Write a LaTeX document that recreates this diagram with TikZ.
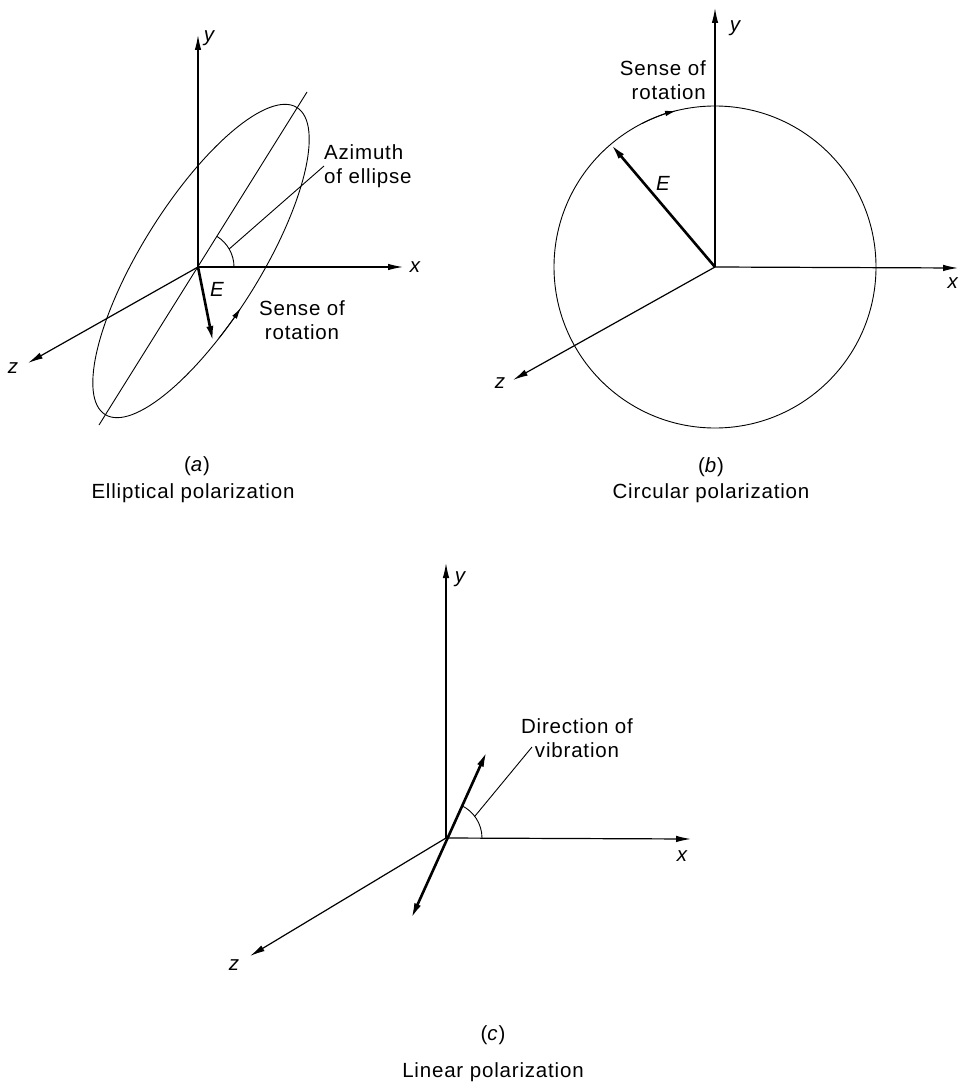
\documentclass[tikz,border=0pt]{standalone}
\usepackage{fontspec}
\setmainfont{Liberation Sans}[LetterSpace=4]
\usetikzlibrary{arrows.meta}
\begin{document}
\begin{tikzpicture}[x=1pt,y=1pt,
  lbl/.style={font=\fontsize{20.5}{24}\selectfont, inner sep=0pt},
  ilbl/.style={font=\fontsize{20.5}{24}\selectfont\itshape, inner sep=0pt},
  ax/.style={line width=1.2pt,-{Latex[length=15pt,width=6.5pt]}},
  thinl/.style={line width=0.9pt},
  vec/.style={line width=2.6pt,-{Latex[length=16pt,width=7pt]}},
  dvec/.style={line width=2.6pt,{Latex[length=16pt,width=7pt]}-{Latex[length=16pt,width=7pt]}},
  sensetip/.style={line width=0.9pt,-{Latex[length=11pt,width=5.5pt]}}]
\useasboundingbox (0,0) rectangle (959,-1086);

% ---------------- (a) elliptical ----------------
\coordinate (Oa) at (198,-267);
\coordinate (ya) at (198,-35);
\coordinate (xa) at (403,-267);
\coordinate (za) at (28,-363);
\coordinate (Ca) at (201,-261);
\coordinate (majA) at (99,-425);
\coordinate (majB) at (307,-92);
\coordinate (Ea) at (213,-342);
\draw[ax] (Oa) -- (ya);
\draw[ax] (Oa) -- (xa);
\draw[ax] (Oa) -- (za);
\draw[thinl, rotate around={58:(Ca)}] (Ca) ellipse [x radius=181pt, y radius=59pt];
\draw[thinl] (majA) -- (majB);
\draw[vec] (Oa) -- (Ea);
\draw[sensetip, shift={(Ca)}, rotate=58] (252:181pt and 59pt) arc[start angle=252, end angle=264, x radius=181pt, y radius=59pt];
\draw[thinl] (Oa) ++(36pt,0) arc[start angle=0, end angle=58, radius=36pt];
\path (Oa) ++(30:36pt) coordinate (la);
\node[lbl, anchor=west, align=left] (aztext) at (324,-166) {Azimuth\\of ellipse};
\draw[thinl] (la) -- (aztext.west);
\node[lbl, align=center] (sensea) at (302,-320) {Sense of\\rotation};
\node[ilbl] (Ela) at (217,-289) {E};
\node[ilbl] (yla) at (209,-38) {y};
\node[ilbl] (xla) at (415,-267) {x};
\node[ilbl] (zla) at (13,-368) {z};
\node[lbl] (capa) at (197,-466) {(\textit{a})};
\node[lbl] (tita) at (193,-493) {Elliptical polarization};

% ---------------- (b) circular ----------------
\coordinate (Ob) at (715,-267);
\coordinate (yb) at (715,-8);
\coordinate (xb) at (958,-268);
\coordinate (zb) at (513,-380);
\draw[ax] (Ob) -- (yb);
\draw[ax] (Ob) -- (xb);
\draw[ax] (Ob) -- (zb);
\draw[thinl] (Ob) circle [radius=161pt];
\path (Ob) ++(130.3:161pt) coordinate (Eb);
\draw[vec] (Ob) -- (Eb);
\draw[sensetip] (Ob) ++(117:161pt) arc[start angle=117, end angle=104, radius=161pt];
\node[lbl, anchor=east, align=right] (senseb) at (706,-80) {Sense of\\rotation};
\node[ilbl] (Elb) at (663,-183) {E};
\node[ilbl] (ylb) at (735,-28) {y};
\node[ilbl, anchor=east] (xlb) at (958,-283) {x};
\node[ilbl] (zlb) at (500,-383) {z};
\node[lbl] (capb) at (711,-467) {(\textit{b})};
\node[lbl] (titb) at (711,-493) {Circular polarization};

% ---------------- (c) linear ----------------
\coordinate (Oc) at (446,-838);
\coordinate (yc) at (446,-563);
\coordinate (xc) at (691,-839);
\coordinate (zc) at (250,-956);
\coordinate (vlo) at (411,-919);
\coordinate (vhi) at (487,-751);
\draw[ax] (Oc) -- (yc);
\draw[ax] (Oc) -- (xc);
\draw[ax] (Oc) -- (zc);
\draw[dvec] (vlo) -- (vhi);
\draw[thinl] (Oc) ++(36pt,0) arc[start angle=0, end angle=65, radius=36pt];
\path (Oc) ++(37:36pt) coordinate (lc);
\node[lbl, align=center] (dirtext) at (577,-738) {Direction of\\vibration};
\coordinate (lcend) at (532,-747);
\draw[thinl] (lc) -- (lcend);
\node[ilbl] (ylc) at (460,-579) {y};
\node[ilbl] (xlc) at (682,-856) {x};
\node[ilbl] (zlc) at (234,-965) {z};
\node[lbl] (capc) at (493,-1035) {(\textit{c})};
\node[lbl] (titc) at (493,-1072) {Linear polarization};
\end{tikzpicture}
\end{document}
